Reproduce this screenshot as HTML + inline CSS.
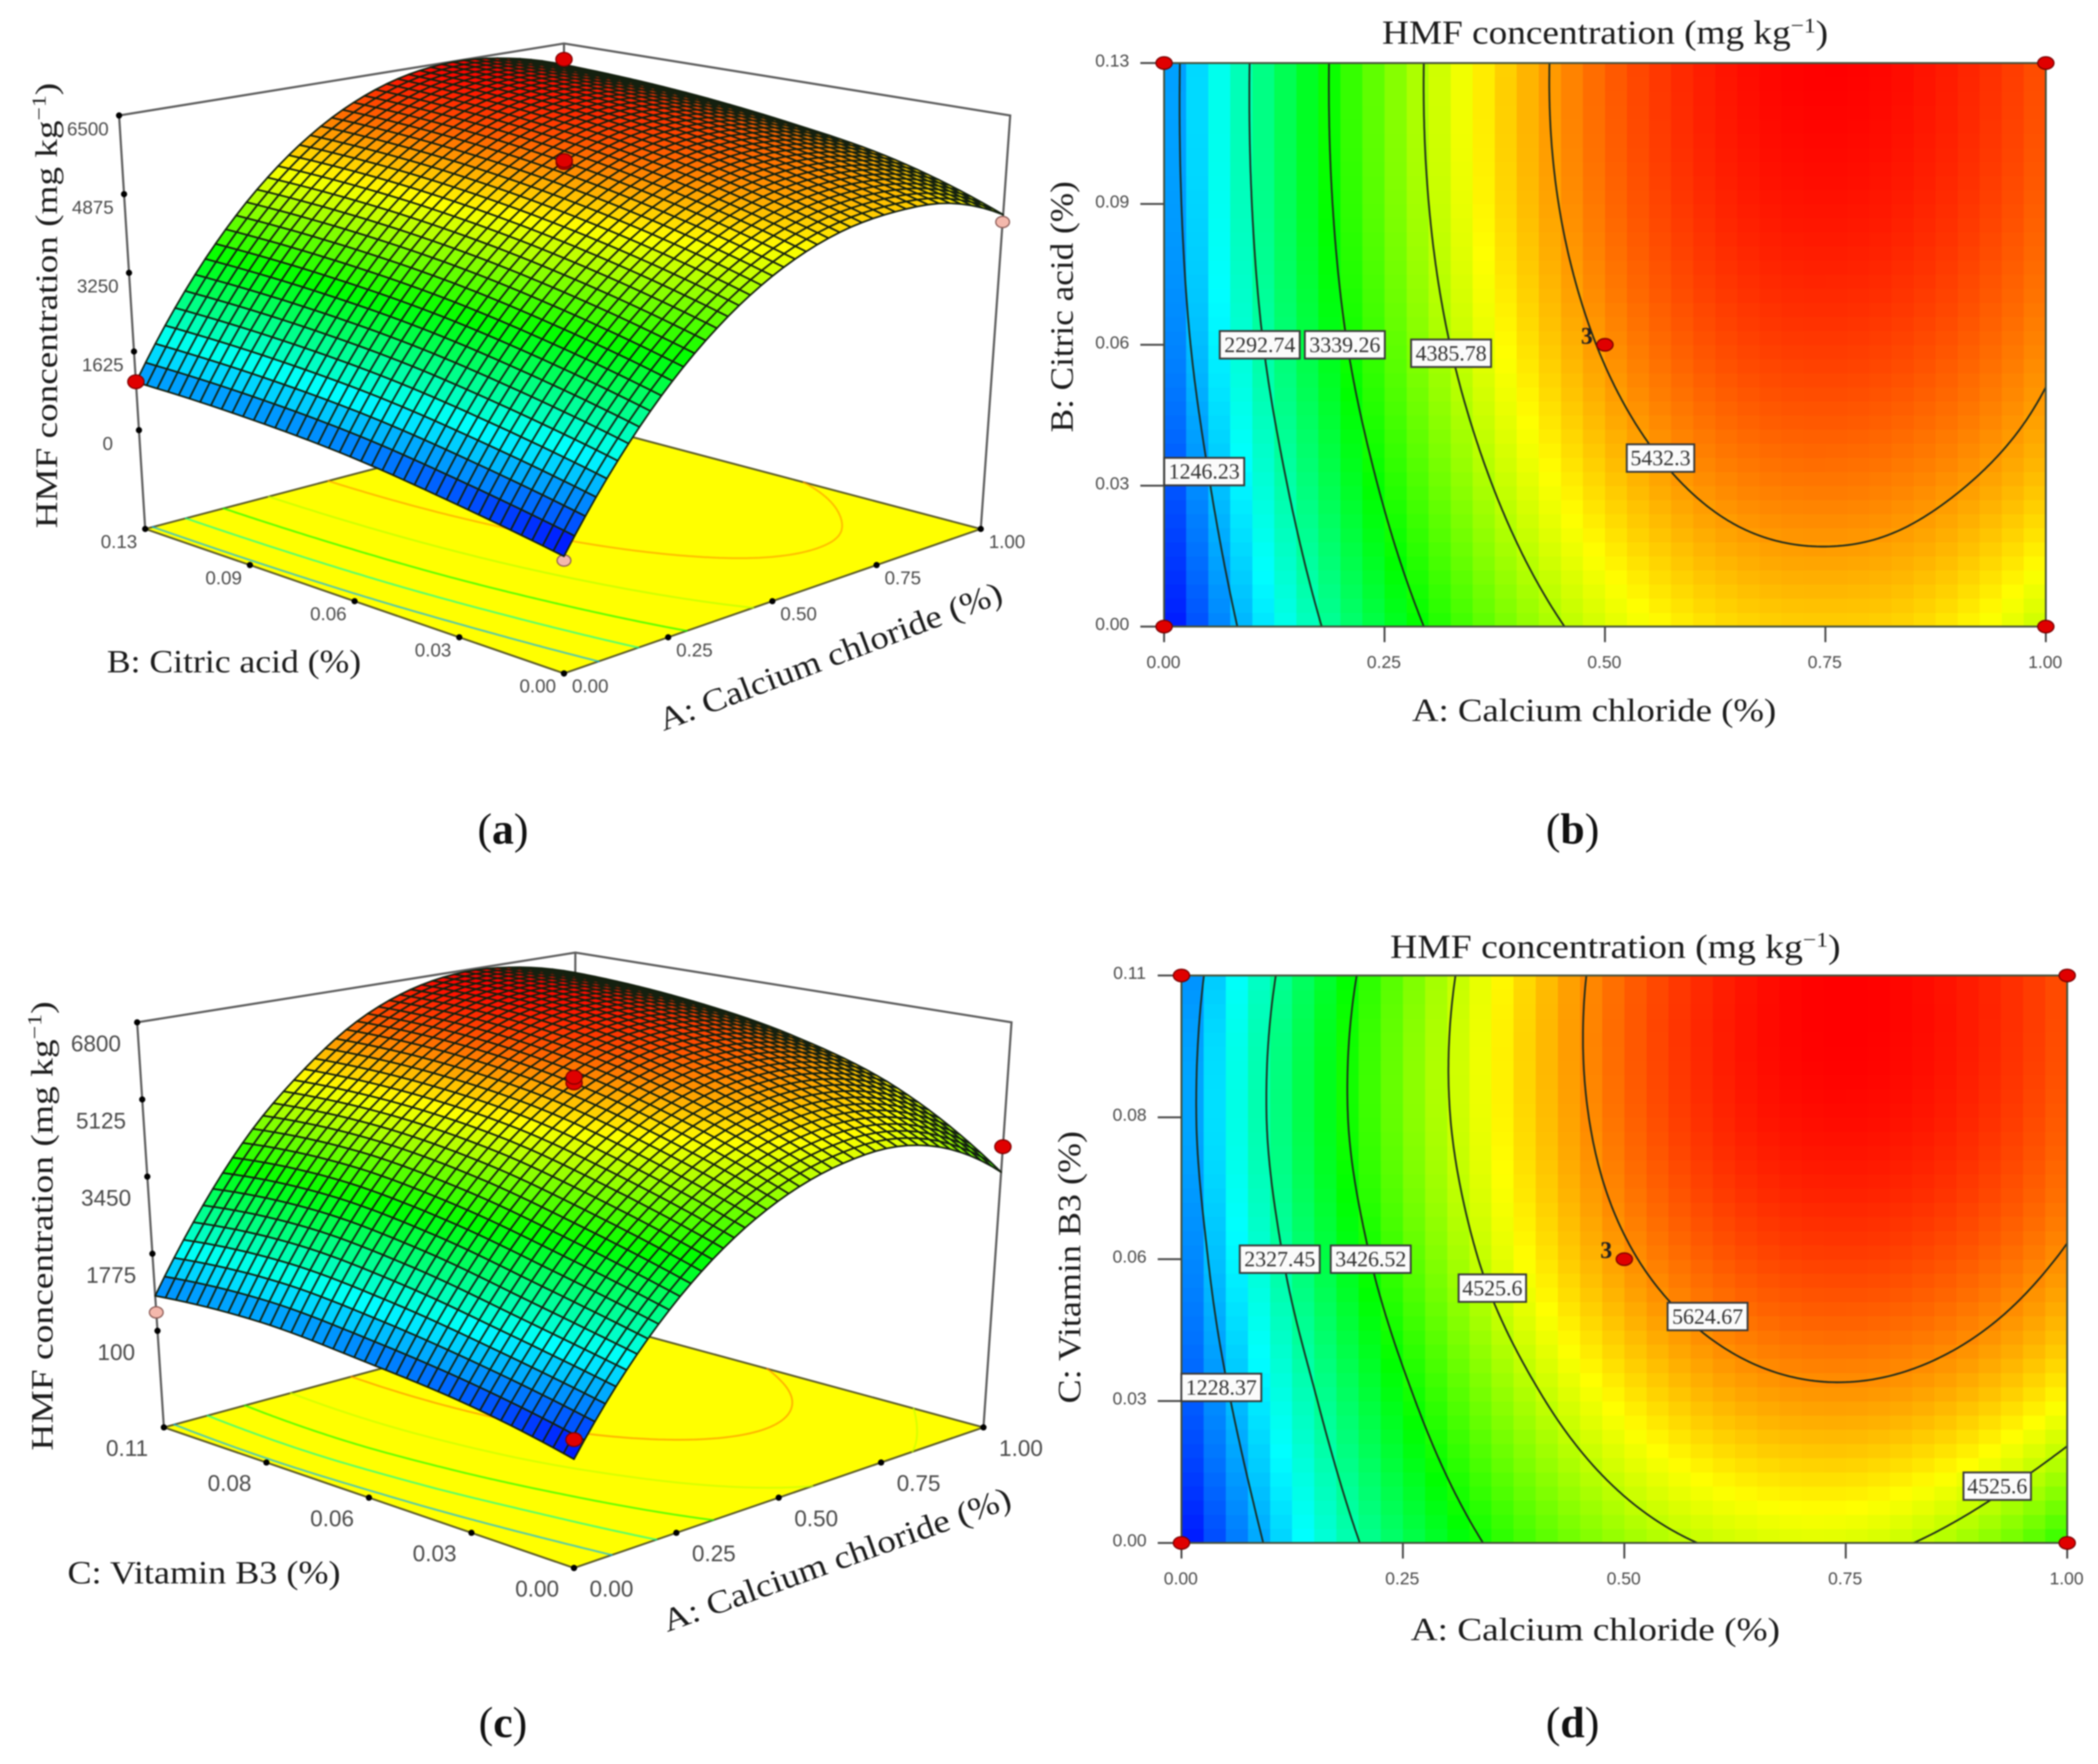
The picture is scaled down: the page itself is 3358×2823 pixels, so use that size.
<!DOCTYPE html>
<html lang="en">
<head>
<meta charset="utf-8">
<title>HMF concentration response surfaces</title>
<style>
html,body{margin:0;padding:0;background:#fff;}
svg{display:block;filter:blur(1px);}
.serif{font-family:"Liberation Serif",serif;fill:#1c1c1c;}
.tick{font-family:"Liberation Sans",sans-serif;fill:#4a4a4a;text-anchor:middle;dominant-baseline:central;}
.cap{font-family:"Liberation Serif",serif;fill:#111;font-size:70px;text-anchor:middle;}
</style>
</head>
<body>
<svg id="figure" xmlns="http://www.w3.org/2000/svg" width="3358" height="2823" viewBox="0 0 3358 2823">
  <rect x="0" y="0" width="3358" height="2823" fill="#ffffff"/>
  <g id="panel-a"></g>
  <g id="panel-b"></g>
  <g id="panel-c"></g>
  <g id="panel-d"></g>

  <!-- panel a titles -->
  <text class="serif" font-size="50" text-anchor="middle" transform="translate(91,489) rotate(-90)" textLength="713" lengthAdjust="spacingAndGlyphs">HMF concentration (mg kg<tspan font-size="32" dy="-18">−1</tspan><tspan dy="18">)</tspan></text>
  <text class="serif" font-size="52" x="171" y="1076" textLength="407" lengthAdjust="spacingAndGlyphs">B: Citric acid (%)</text>
  <text class="serif" font-size="52" transform="translate(1062,1170) rotate(-20.8)" textLength="584" lengthAdjust="spacingAndGlyphs">A: Calcium chloride (%)</text>
  <text class="cap" x="805" y="1350">(<tspan font-weight="bold">a</tspan>)</text>

  <!-- panel b titles -->
  <text class="serif" font-size="54" x="2212" y="70" textLength="714" lengthAdjust="spacingAndGlyphs">HMF concentration (mg kg<tspan font-size="34" dy="-18">−1</tspan><tspan dy="18">)</tspan></text>
  <text class="serif" font-size="52" x="2260" y="1154" textLength="583" lengthAdjust="spacingAndGlyphs">A: Calcium chloride (%)</text>
  <text class="serif" font-size="52" text-anchor="middle" transform="translate(1717,491) rotate(-90)" textLength="402" lengthAdjust="spacingAndGlyphs">B: Citric acid (%)</text>
  <text class="cap" x="2517" y="1350">(<tspan font-weight="bold">b</tspan>)</text>

  <!-- panel c titles -->
  <text class="serif" font-size="50" text-anchor="middle" transform="translate(84,1962) rotate(-90)" textLength="719" lengthAdjust="spacingAndGlyphs">HMF concentration (mg kg<tspan font-size="32" dy="-18">−1</tspan><tspan dy="18">)</tspan></text>
  <text class="serif" font-size="52" x="108" y="2534" textLength="437" lengthAdjust="spacingAndGlyphs">C: Vitamin B3 (%)</text>
  <text class="serif" font-size="52" transform="translate(1068,2612) rotate(-19.9)" textLength="589" lengthAdjust="spacingAndGlyphs">A: Calcium chloride (%)</text>
  <text class="cap" x="805" y="2780">(<tspan font-weight="bold">c</tspan>)</text>

  <!-- panel d titles -->
  <text class="serif" font-size="54" x="2225" y="1533" textLength="721" lengthAdjust="spacingAndGlyphs">HMF concentration (mg kg<tspan font-size="34" dy="-18">−1</tspan><tspan dy="18">)</tspan></text>
  <text class="serif" font-size="52" x="2258" y="2625" textLength="591" lengthAdjust="spacingAndGlyphs">A: Calcium chloride (%)</text>
  <text class="serif" font-size="52" text-anchor="middle" transform="translate(1729,2028) rotate(-90)" textLength="436" lengthAdjust="spacingAndGlyphs">C: Vitamin B3 (%)</text>
  <text class="cap" x="2517" y="2780">(<tspan font-weight="bold">d</tspan>)</text>
</svg>
<script>
// ---- data ----
const gridA = [0, 0.125, 0.25, 0.375, 0.5, 0.625, 0.75, 0.875, 1];
const gridFactor = [0, 0.25, 0.5, 0.75, 1];

const citricSurface = [
  [205, 1725, 2965, 3924, 4602, 5001, 5118, 4992, 4450],
  [549, 2125, 3409, 4403, 5106, 5519, 5641, 5510, 5152],
  [833, 2439, 3748, 4761, 5478, 5899, 6023, 5889, 5524],
  [970, 2600, 3930, 4975, 5700, 6130, 6265, 6131, 5764],
  [992, 2635, 3979, 5024, 5771, 6219, 6368, 6232, 5864]
];
const vitaminSurface = [
  [134, 1580, 2750, 3646, 4266, 4613, 4684, 4341, 3547],
  [560, 2016, 3300, 4294, 4997, 5410, 5532, 5357, 4880],
  [806, 2448, 3787, 4823, 5556, 5986, 6113, 5968, 5570],
  [978, 2693, 4060, 5060, 5845, 6306, 6436, 6297, 5900],
  [860, 2561, 3980, 5050, 5871, 6344, 6502, 6360, 5990]
];

const citricLevels = [1246.23, 2292.74, 3339.26, 4385.78, 5432.3];
const vitaminLevels = [1228.37, 2327.45, 3426.52, 4525.6, 5624.67];

const citricLabelText = ["1246.23", "2292.74", "3339.26", "4385.78", "5432.3"];
const citricLabelA = [0.0455, 0.1085, 0.205, 0.3255, 0.563];
const citricLabelB = [0.275, 0.5, 0.5, 0.485, 0.299];
const vitaminLabelText = ["1228.37", "2327.45", "3426.52", "4525.6", "5624.67", "4525.6"];
const vitaminLabelA = [0.045, 0.111, 0.2137, 0.351, 0.594, 0.921];
const vitaminLabelB = [0.274, 0.5, 0.5, 0.449, 0.399, 0.1];

const axisATicks = ["0.00", "0.25", "0.50", "0.75", "1.00"];
const citricTicks = ["0.00", "0.03", "0.06", "0.09", "0.13"];
const vitaminTicks = ["0.00", "0.03", "0.06", "0.08", "0.11"];
const citricZTicks = [6500, 4875, 3250, 1625, 0];
const vitaminZTicks = [6800, 5125, 3450, 1775, 100];

const designA = [0, 1, 0, 1, 0.5];
const designB = [0, 0, 1, 1, 0.5];

const citric3dA = [0.5, 0.5, 0.5, 1, 0, 1, 0];
const citric3dB = [0.5, 0.5, 0.5, 1, 1, 0, 0];
const citric3dZ = [5475, 5700, 5741, 5985, 1000, 4300, 125];
const citric3dAbove = [false, true, true, true, true, false, false];

const vitamin3dA = [0.5, 0.5, 0.5, 0, 1, 0];
const vitamin3dB = [0.5, 0.5, 0.5, 1, 0, 0];
const vitamin3dZ = [5350, 5563, 5684, 500, 4099, 518];
const vitamin3dAbove = [false, true, true, false, true, true];

// ---- helpers ----
const NS = 'http://www.w3.org/2000/svg';
function el(parent, tag, attrs) {
  const e = document.createElementNS(NS, tag);
  for (const k in attrs) e.setAttribute(k, attrs[k]);
  parent.appendChild(e);
  return e;
}
function cr(p0, p1, p2, p3, t) {
  return 0.5 * (2 * p1 + (p2 - p0) * t + (2 * p0 - 5 * p1 + 4 * p2 - p3) * t * t + (3 * p1 - p0 - 3 * p2 + p3) * t * t * t);
}
function sample1(arr, u) {
  const n = arr.length - 1;
  const x = Math.max(0, Math.min(1, u)) * n;
  const i = Math.min(Math.floor(x), n - 1);
  const g = k => k < 0 ? 3 * arr[0] - 3 * arr[1] + arr[2] : k > n ? 3 * arr[n] - 3 * arr[n - 1] + arr[n - 2] : arr[k];
  return cr(g(i - 1), g(i), g(i + 1), g(i + 2), x - i);
}
function valueAt(m, a, b) {
  const ua = (a - gridA[0]) / (gridA[gridA.length - 1] - gridA[0]);
  const ub = (b - gridFactor[0]) / (gridFactor[gridFactor.length - 1] - gridFactor[0]);
  return sample1(m.map(row => sample1(row, ua)), ub);
}
function rainbow(z, lo, hi) {
  const t = Math.max(0, Math.min(1, (z - lo) / (hi - lo))) * 4;
  let r = 0, g = 0, b = 0;
  if (t < 1) { g = t; b = 1; }
  else if (t < 2) { g = 1; b = 2 - t; }
  else if (t < 3) { g = 1; r = t - 2; }
  else { r = 1; g = 4 - t; }
  return 'rgb(' + Math.round(r * 255) + ',' + Math.round(g * 255) + ',' + Math.round(b * 255) + ')';
}
function extent(m) {
  const flat = m.reduce((acc, r) => acc.concat(r), []);
  return [Math.min.apply(null, flat), Math.max.apply(null, flat)];
}
function contourSegments(m, level, nx, ny) {
  const segs = [];
  const f = [];
  for (let j = 0; j <= ny; j++) {
    const row = [];
    for (let i = 0; i <= nx; i++) row.push(valueAt(m, i / nx, j / ny));
    f.push(row);
  }
  function cross(x1, y1, v1, x2, y2, v2) {
    const t = (level - v1) / (v2 - v1);
    return [x1 + (x2 - x1) * t, y1 + (y2 - y1) * t];
  }
  for (let j = 0; j < ny; j++) {
    for (let i = 0; i < nx; i++) {
      const a0 = i / nx, a1 = (i + 1) / nx, b0 = j / ny, b1 = (j + 1) / ny;
      const v00 = f[j][i], v10 = f[j][i + 1], v01 = f[j + 1][i], v11 = f[j + 1][i + 1];
      const pts = [];
      if ((v00 - level) * (v10 - level) < 0) pts.push(cross(a0, b0, v00, a1, b0, v10));
      if ((v10 - level) * (v11 - level) < 0) pts.push(cross(a1, b0, v10, a1, b1, v11));
      if ((v01 - level) * (v11 - level) < 0) pts.push(cross(a0, b1, v01, a1, b1, v11));
      if ((v00 - level) * (v01 - level) < 0) pts.push(cross(a0, b0, v00, a0, b1, v01));
      if (pts.length >= 2) segs.push([pts[0], pts[1]]);
    }
  }
  return segs;
}

// ---- 2D contour panel ----
function drawContour(cfg) {
  const root = document.getElementById(cfg.id);
  const X = a => cfg.x0 + a * (cfg.x1 - cfg.x0);
  const Y = b => cfg.y1 - b * (cfg.y1 - cfg.y0);
  const ext = extent(cfg.surface);
  const N = 40;
  const cellGroup = el(root, 'g', { 'shape-rendering': 'crispEdges' });
  
  
  for (let j = 0; j < N; j++) {
    for (let i = 0; i < N; i++) {
      const z = valueAt(cfg.surface, (i + 0.5) / N, (j + 0.5) / N);
      const c = el(cellGroup, 'rect', {
        x: X(i / N), y: Y((j + 1) / N),
        width: (cfg.x1 - cfg.x0) / N + 0.6,
        height: (cfg.y1 - cfg.y0) / N + 0.6,
        fill: rainbow(z, ext[0], ext[1])
      });
      
      
    }
  }
  cfg.levels.forEach(level => {
    const segs = contourSegments(cfg.surface, level, 200, 140);
    let d = '';
    segs.forEach(s => {
      d += 'M' + X(s[0][0]).toFixed(1) + ' ' + Y(s[0][1]).toFixed(1) + 'L' + X(s[1][0]).toFixed(1) + ' ' + Y(s[1][1]).toFixed(1);
    });
    const line = el(root, 'path', { d: d, fill: 'none', stroke: '#1d2a1d', 'stroke-width': 2.8, 'stroke-linecap': 'round' });
    
    
  });
  const frame = el(root, 'rect', { x: cfg.x0, y: cfg.y0, width: cfg.x1 - cfg.x0, height: cfg.y1 - cfg.y0, fill: 'none', stroke: '#44503a', 'stroke-width': 3 });
  
  

  cfg.ticksX.forEach((t, i) => {
    const u = i / (cfg.ticksX.length - 1);
    const tk = el(root, 'line', { x1: X(u), x2: X(u), y1: cfg.y1, y2: cfg.y1 + 25, stroke: '#444', 'stroke-width': 3 });
    
    
    const lb = el(root, 'text', { x: X(u) - 1, y: cfg.y1 + 57, class: 'tick', 'font-size': 28 });
    lb.textContent = t;
    
    
  });
  cfg.ticksY.forEach((t, i) => {
    const u = i / (cfg.ticksY.length - 1);
    const tk = el(root, 'line', { x1: cfg.x0 - 38, x2: cfg.x0, y1: Y(u), y2: Y(u), stroke: '#444', 'stroke-width': 3 });
    
    
    const lb = el(root, 'text', { x: cfg.x0 - 83, y: Y(u) - 4, class: 'tick', 'font-size': 28 });
    lb.textContent = t;
    
    
  });
  cfg.labelText.forEach((t, i) => {
    const w = t.length >= 7 ? 128 : 108;
    const cx = X(cfg.labelA[i]), cy = Y(cfg.labelB[i]);
    const box = el(root, 'rect', { x: cx - w / 2, y: cy - 22, width: w, height: 44, fill: '#fbfbfb', stroke: '#3a3a3a', 'stroke-width': 3 });
    
    
    const txt = el(root, 'text', { x: cx, y: cy, 'font-size': 35, 'text-anchor': 'middle', 'dominant-baseline': 'central', 'font-family': '"Liberation Serif",serif', fill: '#333' });
    txt.textContent = t;
    
    
  });
  designA.forEach((a, i) => {
    const pt = el(root, 'ellipse', { cx: X(a), cy: Y(designB[i]), rx: 13, ry: 10, fill: '#e00000', stroke: '#7a0000', 'stroke-width': 2 });
    
    
  });
  const rep = el(root, 'text', { x: X(0.5) - 29, y: Y(0.5) - 14, 'font-size': 38, 'font-weight': 'bold', 'text-anchor': 'middle', 'dominant-baseline': 'central', 'font-family': '"Liberation Serif",serif', fill: '#222' });
  rep.textContent = '3';
  
  
}

// ---- 3D surface panel ----
function drawSurface(cfg) {
  const root = document.getElementById(cfg.id);
  const ext = extent(cfg.surface);
  function quad(q, a, b) {
    return [
      (1 - a) * (1 - b) * q.front[0] + a * (1 - b) * q.right[0] + (1 - a) * b * q.left[0] + a * b * q.back[0],
      (1 - a) * (1 - b) * q.front[1] + a * (1 - b) * q.right[1] + (1 - a) * b * q.left[1] + a * b * q.back[1]
    ];
  }
  function project(a, b, z) {
    const f = quad(cfg.floor, a, b), t = quad(cfg.top, a, b);
    const s = (z - cfg.zBase) / (cfg.zTop - cfg.zBase);
    return [f[0] + (t[0] - f[0]) * s, f[1] + (t[1] - f[1]) * s];
  }
  const fl = cfg.floor, fr = cfg.frameTop;
  const pts = q => q.map(p => p[0] + ',' + p[1]).join(' ');
  const floor = el(root, 'polygon', { points: pts([fl.front, fl.right, fl.back, fl.left]), fill: '#ffff00', stroke: '#5b5b2a', 'stroke-width': 3 });
  
  

  const wall = el(root, 'path', {
    d: 'M' + fl.left + 'L' + fr.left + 'L' + fr.back + 'L' + fr.right + 'L' + fl.right + 'M' + fl.back + 'L' + fr.back,
    fill: 'none', stroke: '#5c5c5c', 'stroke-width': 3.4
  });
  
  

  cfg.levels.forEach(level => {
    const segs = contourSegments(cfg.surface, level, 120, 100);
    let d = '';
    segs.forEach(s => {
      const p = project(s[0][0], s[0][1], cfg.zBase), q = project(s[1][0], s[1][1], cfg.zBase);
      d += 'M' + p[0].toFixed(1) + ' ' + p[1].toFixed(1) + 'L' + q[0].toFixed(1) + ' ' + q[1].toFixed(1);
    });
    const line = el(root, 'path', { d: d, fill: 'none', stroke: rainbow(level, ext[0], ext[1]), 'stroke-width': 3, 'stroke-opacity': 0.65, 'stroke-linecap': 'round' });
    
    
  });

  // tick dots and labels
  function dot(p, name) {
    const c = el(root, 'circle', { cx: p[0], cy: p[1], r: 5, fill: '#000' });
    
    
  }
  cfg.zTicks.forEach((t, i) => {
    const p = project(0, 1, t);
    dot(p, 'z-tick');
    const lb = el(root, 'text', { x: p[0] + cfg.zLabelDx, y: p[1] + cfg.zLabelDy, class: 'tick', 'font-size': cfg.tickFont });
    lb.textContent = String(t);
    
    
  });
  cfg.ticksA.forEach((t, i) => {
    const u = i / (cfg.ticksA.length - 1);
    const p = project(u, 0, cfg.zBase);
    dot(p, 'a-tick');
    const lb = el(root, 'text', { x: p[0] + cfg.aLabelDx, y: p[1] + cfg.labelDy, class: 'tick', 'font-size': cfg.tickFont });
    lb.textContent = t;
    
    
  });
  cfg.ticksB.forEach((t, i) => {
    const u = i / (cfg.ticksB.length - 1);
    const p = project(0, u, cfg.zBase);
    dot(p, 'factor-tick');
    const lb = el(root, 'text', { x: p[0] - cfg.bLabelDx, y: p[1] + cfg.labelDy, class: 'tick', 'font-size': cfg.tickFont });
    lb.textContent = t;
    
    
  });

  // points below the surface
  function mark(i) {
    const p = project(cfg.markA[i], cfg.markB[i], cfg.markZ[i]);
    const above = cfg.markAbove[i];
    const m = el(root, 'ellipse', { cx: p[0], cy: p[1], rx: above ? 13 : 11, ry: above ? 11 : 9, fill: above ? '#e00000' : '#f4b8ac', stroke: above ? '#800000' : '#8a5a55', 'stroke-width': 2 });
    
    
  }
  cfg.markA.forEach((a, i) => { if (!cfg.markAbove[i]) mark(i); });

  // mesh, painted back to front
  const N = 40;
  const mesh = el(root, 'g', { stroke: '#14200f', 'stroke-width': 2.7, 'stroke-linejoin': 'round' });
  
  
  for (let j = N - 1; j >= 0; j--) {
    for (let i = N - 1; i >= 0; i--) {
      const a0 = i / N, a1 = (i + 1) / N, b0 = j / N, b1 = (j + 1) / N;
      const z00 = valueAt(cfg.surface, a0, b0), z10 = valueAt(cfg.surface, a1, b0);
      const z11 = valueAt(cfg.surface, a1, b1), z01 = valueAt(cfg.surface, a0, b1);
      const p = [project(a0, b0, z00), project(a1, b0, z10), project(a1, b1, z11), project(a0, b1, z01)];
      const tile = el(mesh, 'polygon', {
        points: p.map(q => q[0].toFixed(1) + ',' + q[1].toFixed(1)).join(' '),
        fill: rainbow((z00 + z10 + z11 + z01) / 4, ext[0], ext[1])
      });
      
      
    }
  }
  cfg.markA.forEach((a, i) => { if (cfg.markAbove[i]) mark(i); });
}

drawSurface({
  id: 'panel-a', surface: citricSurface, levels: citricLevels,
  floor: { left: [232.4, 846.5], front: [902.7, 1077.7], right: [1569.8, 846.5], back: [902.7, 670.6] },
  top: { left: [190.6, 184.8], front: [902.7, 365], right: [1616.9, 184.8], back: [902.7, 58] },
  frameTop: { left: [190.6, 184.8], right: [1616.9, 184.8], back: [902.7, 69.6] },
  zBase: -2040, zTop: 6500, zTicks: citricZTicks, ticksA: axisATicks, ticksB: citricTicks,
  zLabelDx: -50, zLabelDy: 22, aLabelDx: 42, bLabelDx: 42, labelDy: 21, tickFont: 30,
  markA: citric3dA, markB: citric3dB, markZ: citric3dZ, markAbove: citric3dAbove
});
drawContour({
  id: 'panel-b', surface: citricSurface, levels: citricLevels,
  x0: 1863.2, x1: 3274.5, y0: 100.9, y1: 1002.7,
  ticksX: axisATicks, ticksY: citricTicks.slice(),
  labelText: citricLabelText, labelA: citricLabelA, labelB: citricLabelB
});
drawSurface({
  id: 'panel-c', surface: vitaminSurface, levels: vitaminLevels,
  floor: { left: [262.3, 2284.3], front: [918.7, 2509.3], right: [1574.1, 2284.3], back: [918.7, 2106.6] },
  top: { left: [219.5, 1636.1], front: [918.7, 1790.6], right: [1619, 1636.1], back: [918.7, 1500.4] },
  frameTop: { left: [219.5, 1636.1], right: [1619, 1636.1], back: [920.9, 1524.5] },
  zBase: -1997, zTop: 6800, zTicks: vitaminZTicks, ticksA: axisATicks, ticksB: vitaminTicks,
  zLabelDx: -66, zLabelDy: 34, aLabelDx: 60, bLabelDx: 59, labelDy: 33, tickFont: 36,
  markA: vitamin3dA, markB: vitamin3dB, markZ: vitamin3dZ, markAbove: vitamin3dAbove
});
drawContour({
  id: 'panel-d', surface: vitaminSurface, levels: vitaminLevels,
  x0: 1891, x1: 3308.7, y0: 1561.1, y1: 2469.2,
  ticksX: axisATicks, ticksY: vitaminTicks.slice(),
  labelText: vitaminLabelText, labelA: vitaminLabelA, labelB: vitaminLabelB
});
</script>
</body>
</html>
